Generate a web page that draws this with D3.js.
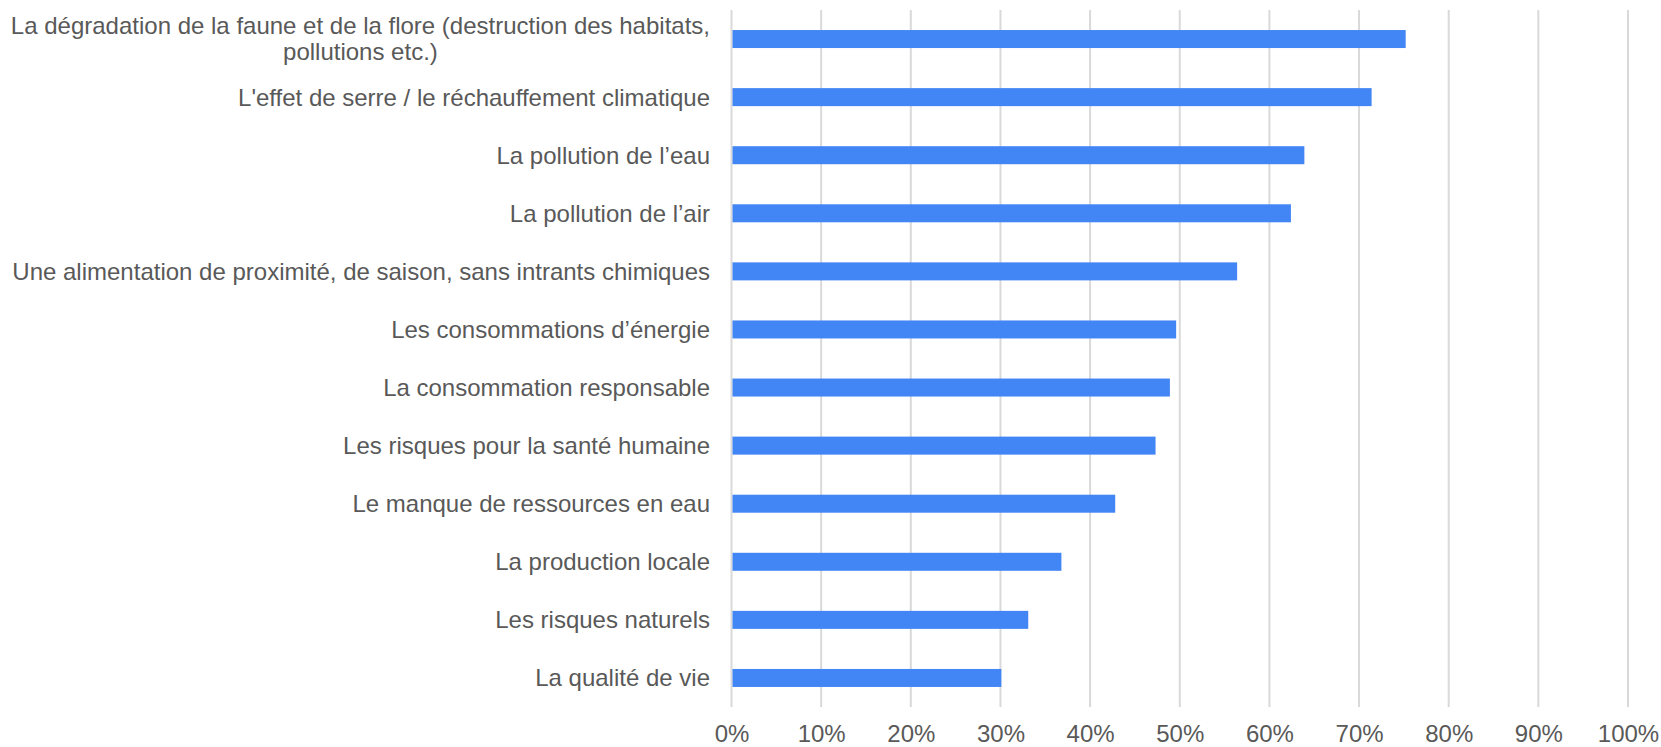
<!DOCTYPE html>
<html><head><meta charset="utf-8">
<script src="https://cdn.jsdelivr.net/npm/d3@7"></script>
<style>body{margin:0;background:#fff;}svg{display:block;}</style>
</head><body>
<svg id="chart" width="1661" height="747"></svg>
<script>
const categories = [
  "La dégradation de la faune et de la flore (destruction des habitats,|pollutions etc.)",
  "L'effet de serre / le réchauffement climatique",
  "La pollution de l’eau",
  "La pollution de l’air",
  "Une alimentation de proximité, de saison, sans intrants chimiques",
  "Les consommations d’énergie",
  "La consommation responsable",
  "Les risques pour la santé humaine",
  "Le manque de ressources en eau",
  "La production locale",
  "Les risques naturels",
  "La qualité de vie"
];
const values = [0.752, 0.714, 0.639, 0.624, 0.564, 0.496, 0.489, 0.473, 0.428, 0.368, 0.331, 0.301];
const tickValues = [0, 0.1, 0.2, 0.3, 0.4, 0.5, 0.6, 0.7, 0.8, 0.9, 1.0];

(function () {
const svg = d3.select("#chart");
const mLeft = 731.5, mRight = 1628, mTop = 10, mBottom = 707;
const font = "'Liberation Sans', Arial, sans-serif";
const fs = 24;
const textColor = "#595959";

const x = d3.scaleLinear().domain([0, 1]).range([mLeft, mRight]);
const y = d3.scaleBand().domain(categories).range([mTop, mBottom]).paddingInner(0.69).paddingOuter(0.345);

svg.append("g").selectAll("line").data(tickValues).join("line")
  .attr("x1", d => x(d)).attr("x2", d => x(d))
  .attr("y1", mTop).attr("y2", mBottom)
  .attr("stroke", "#d9d9d9").attr("stroke-width", 2);

svg.append("g").selectAll("rect").data(values).join("rect")
  .attr("x", x(0) + 1)
  .attr("y", (d, i) => y(categories[i]))
  .attr("width", d => x(d) - x(0) - 1)
  .attr("height", y.bandwidth())
  .attr("fill", "#4285F4");

const xAxis = d3.axisBottom(x).tickValues(tickValues).tickFormat(d3.format(".0%")).tickSize(0).tickPadding(0);
const gx = svg.append("g").attr("transform", `translate(0,${mBottom})`).call(xAxis);
gx.select(".domain").remove();
gx.selectAll("text").attr("y", 35).attr("dy", null)
  .attr("font-family", font).attr("font-size", fs).attr("fill", textColor);

const labelX = 710;
const gy = svg.append("g");
categories.forEach((c, i) => {
  const cy = y(c) + y.bandwidth() / 2;
  const lines = c.split("|");
  if (lines.length === 1) {
    gy.append("text").attr("x", labelX).attr("y", cy).attr("dy", "0.35em")
      .attr("text-anchor", "end").attr("font-family", font).attr("font-size", fs)
      .attr("fill", textColor).text(c);
  } else {
    const t1 = gy.append("text").attr("x", labelX).attr("y", cy - 13).attr("dy", "0.35em")
      .attr("text-anchor", "end").attr("font-family", font).attr("font-size", fs)
      .attr("fill", textColor).text(lines[0]);
    const w = t1.node().getComputedTextLength();
    gy.append("text").attr("x", labelX - w / 2).attr("y", cy + 13).attr("dy", "0.35em")
      .attr("text-anchor", "middle").attr("font-family", font).attr("font-size", fs)
      .attr("fill", textColor).text(lines[1]);
  }
});
})();
</script>
</body></html>
